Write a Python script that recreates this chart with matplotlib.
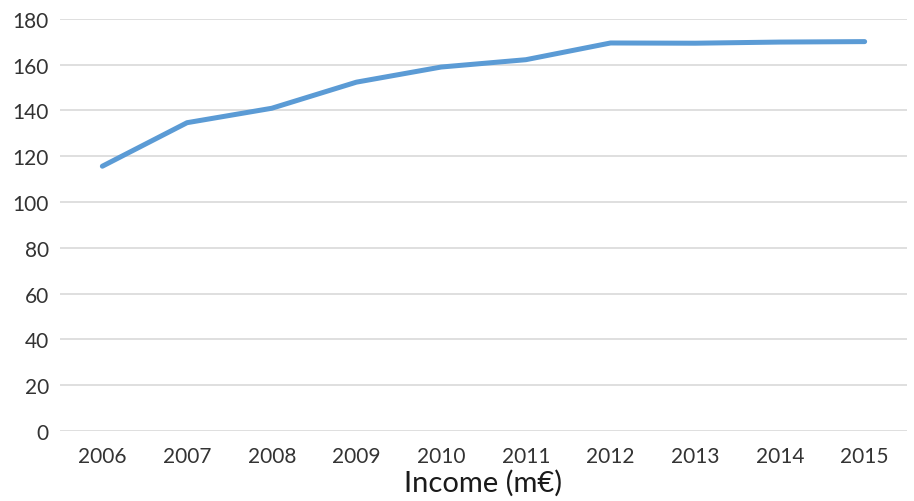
import matplotlib
matplotlib.use("Agg")
import matplotlib.pyplot as plt

years = ["2006", "2007", "2008", "2009", "2010", "2011", "2012", "2013", "2014", "2015"]
income = [115.6, 134.6, 140.9, 152.3, 158.9, 162.1, 169.4, 169.3, 169.8, 170.0]

plt.rcParams["font.family"] = ["Lato", "DejaVu Sans"]

fig = plt.figure(figsize=(9.14, 5.02), dpi=100)
ax = fig.add_axes([60 / 914, 1 - 432 / 502, 847 / 914, 412.3 / 502])

x = range(len(years))
ax.plot(x, income, color="#5B9BD5", linewidth=3.6, solid_capstyle="round",
        solid_joinstyle="round", zorder=3)

ax.set_xlim(-0.5, len(years) - 0.5)
ax.set_ylim(0, 180)
ax.set_yticks(range(0, 181, 20))
ax.set_xticks(list(x))
ax.set_xticklabels(years)

ax.grid(axis="y", color="#D9D9D9", linewidth=1.2)
ax.set_axisbelow(True)
for s in ax.spines.values():
    s.set_visible(False)
ax.tick_params(length=0, labelsize=15, colors="#333333", pad=8)
ax.tick_params(axis="x", pad=11)

ax.set_xlabel("Income (m€)", fontsize=21, color="#1a1a1a", labelpad=2)

fig.savefig("out.png", dpi=100)
plt.close(fig)
